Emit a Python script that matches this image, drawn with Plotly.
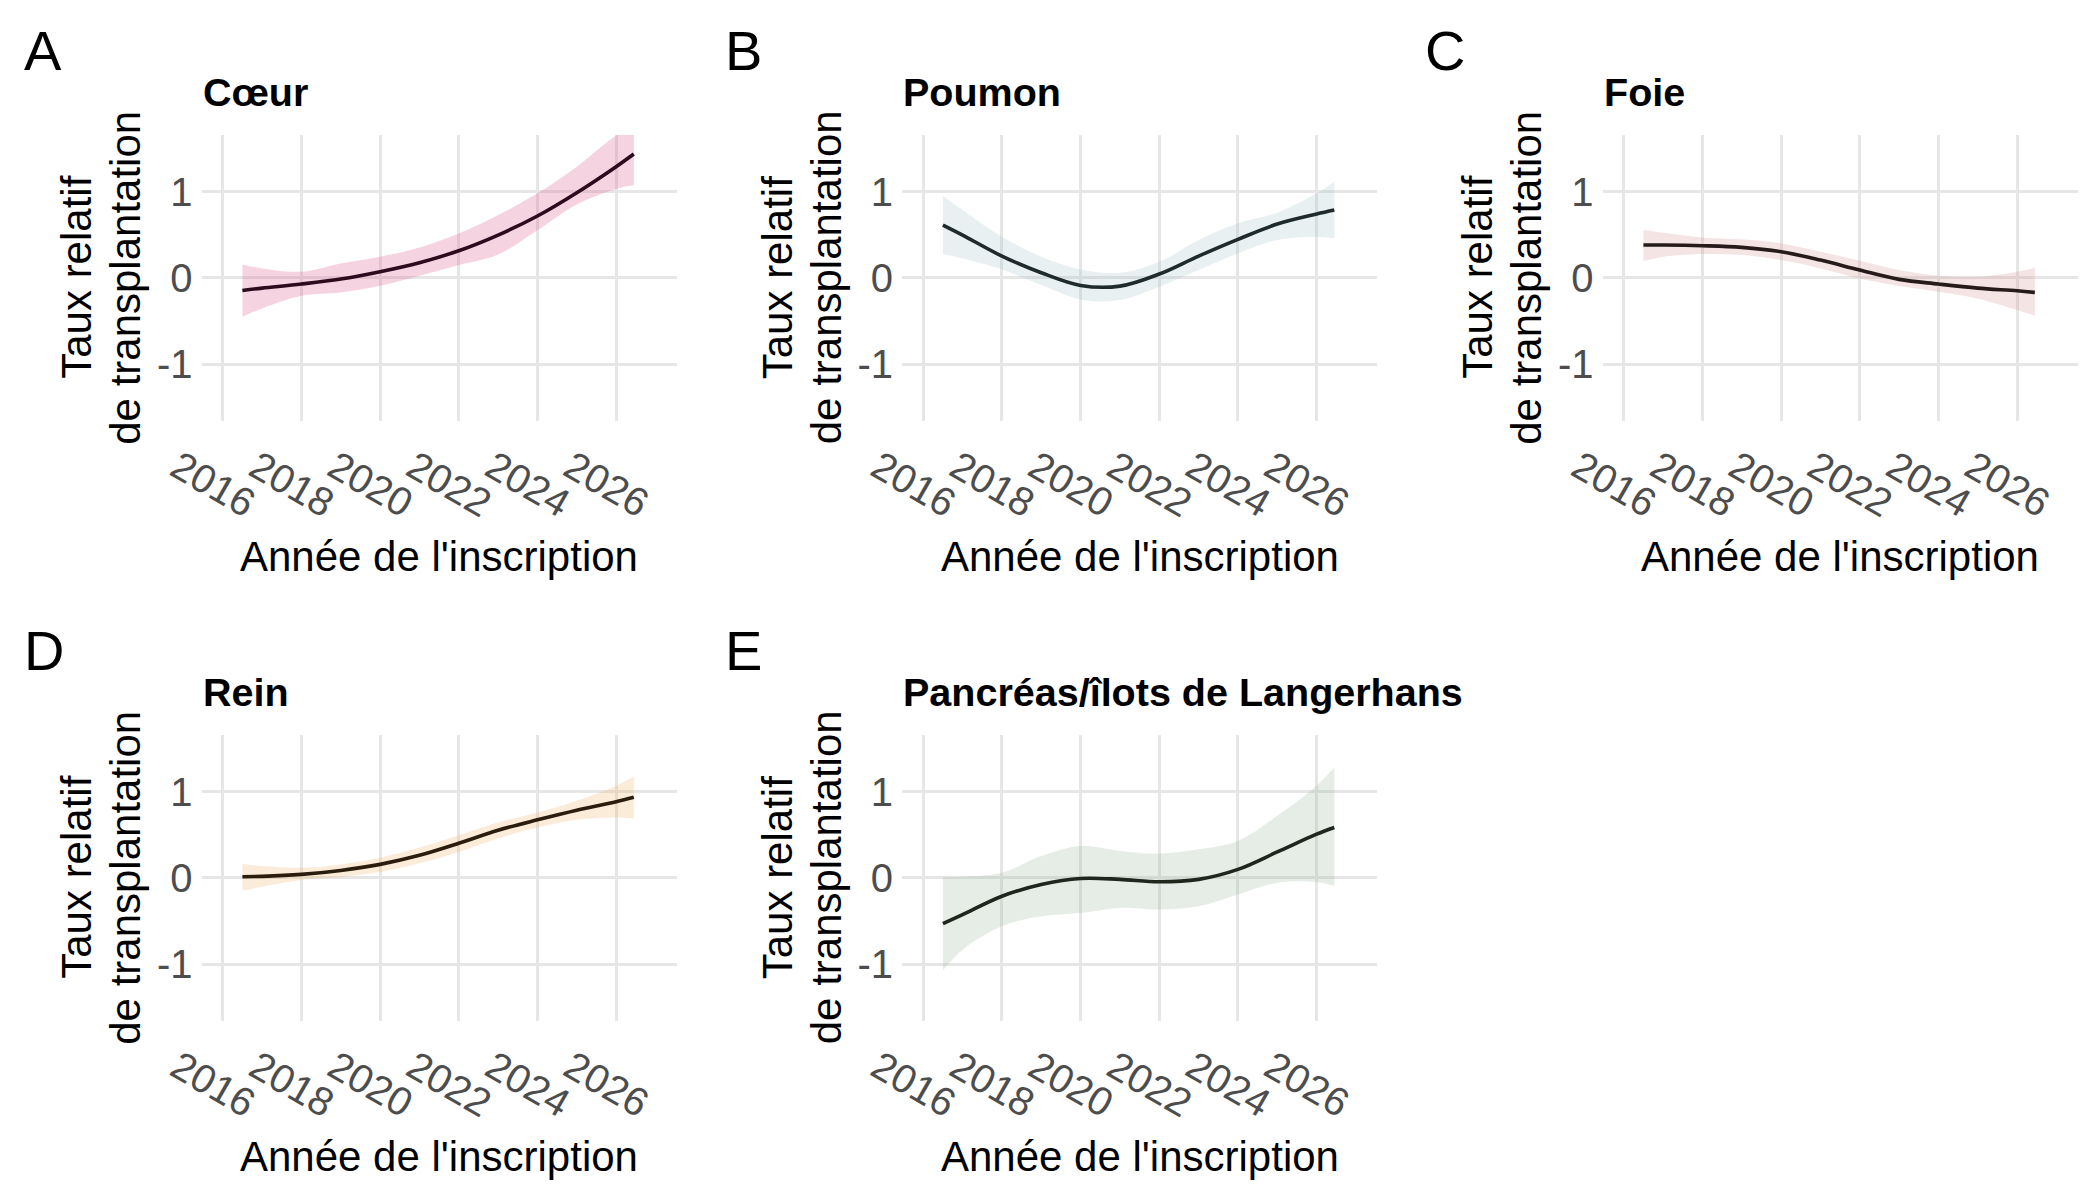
import plotly.graph_objects as go
from plotly.subplots import make_subplots

W, H = 2100, 1200
OFF = 8  # la page décale la figure de quelques pixels

# années de l'inscription
years = [2016.5, 2017, 2018, 2019, 2020, 2021, 2022, 2023, 2024, 2025, 2026, 2026.45]

coeur_fit = [-0.147, -0.12, -0.073, -0.015, 0.07, 0.174, 0.313, 0.495, 0.716, 0.986, 1.288, 1.435]
coeur_low = [-0.453, -0.356, -0.209, -0.17, -0.093, 0.023, 0.147, 0.27, 0.55, 0.85, 1.03, 1.075]
coeur_high = [0.155, 0.108, 0.07, 0.166, 0.244, 0.352, 0.514, 0.727, 0.979, 1.288, 1.65, 1.75]

poumon_fit = [0.611, 0.495, 0.251, 0.058, -0.089, -0.097, 0.043, 0.251, 0.445, 0.623, 0.739, 0.785]
poumon_low = [0.275, 0.224, 0.097, -0.085, -0.251, -0.259, -0.104, 0.089, 0.282, 0.437, 0.476, 0.456]
poumon_high = [0.952, 0.785, 0.476, 0.244, 0.097, 0.058, 0.186, 0.437, 0.631, 0.754, 0.979, 1.114]

foie_fit = [0.379, 0.379, 0.371, 0.352, 0.302, 0.205, 0.089, -0.019, -0.073, -0.12, -0.151, -0.17]
foie_low = [0.193, 0.244, 0.275, 0.263, 0.205, 0.108, -0.008, -0.097, -0.162, -0.24, -0.375, -0.441]
foie_high = [0.553, 0.522, 0.468, 0.445, 0.398, 0.302, 0.197, 0.089, 0.023, 0.012, 0.07, 0.116]

rein_fit = [0.012, 0.016, 0.039, 0.085, 0.155, 0.26, 0.4, 0.551, 0.672, 0.784, 0.882, 0.932]
rein_low = [-0.148, -0.105, -0.027, 0.008, 0.066, 0.167, 0.299, 0.454, 0.583, 0.672, 0.699, 0.691]
rein_high = [0.163, 0.136, 0.117, 0.155, 0.233, 0.35, 0.493, 0.641, 0.757, 0.893, 1.068, 1.177]

pancreas_fit = [-0.532, -0.427, -0.214, -0.078, -0.008, -0.019, -0.047, -0.019, 0.097, 0.299, 0.505, 0.583]
pancreas_low = [-1.076, -0.835, -0.563, -0.447, -0.408, -0.35, -0.369, -0.33, -0.194, -0.058, -0.05, -0.097]
pancreas_high = [0.012, 0.012, 0.058, 0.252, 0.369, 0.311, 0.28, 0.33, 0.427, 0.718, 1.068, 1.282]

x_ticks = [2016, 2018, 2020, 2022, 2024, 2026]
y_ticks = [-1, 0, 1]
y_tick_labels = ["-1", "0", "1"]

panels = [
    ("A", "Cœur", coeur_fit, coeur_low, coeur_high, "rgba(223,91,139,0.27)", "#2D0B1E", 1, 1),
    ("B", "Poumon", poumon_fit, poumon_low, poumon_high, "rgba(163,195,203,0.25)", "#1F2A2C", 1, 2),
    ("C", "Foie", foie_fit, foie_low, foie_high, "rgba(215,147,147,0.25)", "#261A1A", 1, 3),
    ("D", "Rein", rein_fit, rein_low, rein_high, "rgba(239,179,107,0.25)", "#2B1D0E", 2, 1),
    ("E", "Pancréas/îlots de Langerhans", pancreas_fit, pancreas_low, pancreas_high,
     "rgba(155,183,155,0.25)", "#1E261E", 2, 2),
]

FONT = "Liberation Sans, Arial, sans-serif"

fig = make_subplots(rows=2, cols=3, specs=[[{}, {}, {}], [{}, {}, None]])

# positions en pixels des zones de tracé
col_px = [(201.5, 676.7), (902.0, 1377.2), (1602.5, 2077.7)]
row_px = [(135.0, 420.5), (735.0, 1020.5)]


def px(x):
    return (x - OFF) / W


def py(y):
    return 1 - (y - OFF) / H


annotations = []
for letter, title, fit, low, high, fill, line, r, c in panels:
    fig.add_trace(go.Scatter(x=years, y=low, mode="lines", line=dict(width=0, shape="spline"),
                             hoverinfo="skip", showlegend=False), row=r, col=c)
    fig.add_trace(go.Scatter(x=years, y=high, mode="lines", line=dict(width=0, shape="spline"),
                             fill="tonexty", fillcolor=fill, hoverinfo="skip", showlegend=False),
                  row=r, col=c)
    fig.add_trace(go.Scatter(x=years, y=fit, mode="lines", line=dict(color=line, width=3.6, shape="spline"),
                             showlegend=False), row=r, col=c)

    x0, x1 = col_px[c - 1]
    y0, y1 = row_px[r - 1]
    fig.update_xaxes(domain=[px(x0), px(x1)], row=r, col=c)
    fig.update_yaxes(domain=[py(y1), py(y0)], row=r, col=c)

    dy = 600 * (r - 1)
    dx = 700.5 * (c - 1)
    annotations += [
        dict(text=letter, x=px(22 + dx), y=py(50 + dy), xanchor="left", yanchor="middle",
             font=dict(size=56, color="black")),
        dict(text="<b>%s</b>" % title, x=px(x0 - 1), y=py(92 + dy), xanchor="left", yanchor="middle",
             font=dict(size=39.5, color="black")),
        dict(text="Année de l'inscription", x=px((x0 + x1) / 2), y=py(556 + dy),
             xanchor="center", yanchor="middle", font=dict(size=42, color="black")),
        dict(text="Taux relatif", x=px(77 + dx), y=py((y0 + y1) / 2), textangle=-90,
             xanchor="center", yanchor="middle", font=dict(size=42, color="black")),
        dict(text="de transplantation", x=px(126 + dx), y=py((y0 + y1) / 2), textangle=-90,
             xanchor="center", yanchor="middle", font=dict(size=42, color="black")),
    ]

for a in annotations:
    a.update(xref="paper", yref="paper", showarrow=False)

fig.update_xaxes(range=[2015.46, 2027.54], tickvals=x_ticks, tickangle=30, showgrid=True,
                 gridcolor="#E6E6E6", gridwidth=3, zeroline=False, showline=False, ticks="",
                 automargin=False, tickfont=dict(size=40, color="#4D4D4D"),
                 ticklabelshift=-45, ticklabelstandoff=15)
fig.update_yaxes(range=[-1.655, 1.655], tickvals=y_ticks, ticktext=y_tick_labels, showgrid=True,
                 gridcolor="#E6E6E6", gridwidth=3, zeroline=False, showline=False, ticks="",
                 automargin=False, tickfont=dict(size=40, color="#4D4D4D"), ticklabelstandoff=8)

fig.update_layout(width=W, height=H, margin=dict(l=0, r=0, t=0, b=0), plot_bgcolor="white",
                  paper_bgcolor="white", font=dict(family=FONT), annotations=annotations)

fig.write_html("out.html")
